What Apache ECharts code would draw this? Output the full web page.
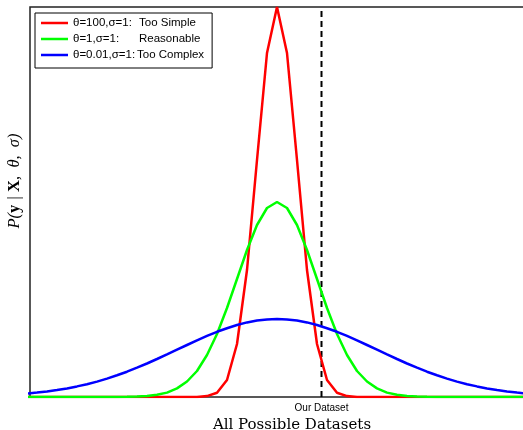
<!DOCTYPE html>
<html>
<head>
<meta charset="utf-8">
<script src="https://cdn.jsdelivr.net/npm/echarts@6/dist/echarts.min.js"></script>
<style>
  html, body { margin: 0; padding: 0; background: #fff; }
  #chart { width: 523px; height: 430px; }
</style>
</head>
<body>
<div id="chart"></div>
<script>
// sample positions (dataset index, peak at 0)
const xs = [-25, -24, -23, -22, -21, -20, -19, -18, -17, -16, -15, -14, -13, -12, -11, -10, -9,
  -8, -7, -6, -5, -4, -3, -2, -1, 0, 1, 2, 3, 4, 5, 6, 7, 8,
  9, 10, 11, 12, 13, 14, 15, 16, 17, 18, 19, 20, 21, 22, 23, 24, 25];

// theta=100 : too simple
const simpleVals = [0, 0, 0, 0, 0, 0, 0, 0, 0, 0, 0, 0, 0, 0, 0, 0, 0,
  0.1, 0.9, 4.3, 17, 53, 127, 237, 344, 390, 344, 237, 127, 53, 17, 4.3, 0.9, 0.1,
  0, 0, 0, 0, 0, 0, 0, 0, 0, 0, 0, 0, 0, 0, 0, 0, 0];

// theta=1 : reasonable
const reasonableVals = [0, 0, 0, 0, 0, 0, 0, 0, 0,
  0.1, 0.2, 0.4, 1.0, 2.2, 4.4, 8.6, 15.5, 26, 42, 63, 89, 118, 147, 172, 189,
  195,
  189, 172, 147, 118, 89, 63, 42, 26, 15.5, 8.6, 4.4, 2.2, 1.0, 0.4, 0.2, 0.1,
  0, 0, 0, 0, 0, 0, 0, 0, 0];

// theta=0.01 : too complex
const complexVals = [3.4, 4.4, 5.5, 6.9, 8.6, 10.6, 12.8, 15.4, 18.4, 21.7, 25.3, 29.3, 33.5,
  38, 42.6, 47.3, 52, 56.6, 61.1, 65.2, 68.8, 72, 74.6, 76.5, 77.6,
  78,
  77.6, 76.5, 74.6, 72, 68.8, 65.2, 61.1, 56.6, 52, 47.3, 42.6, 38,
  33.5, 29.3, 25.3, 21.7, 18.4, 15.4, 12.8, 10.6, 8.6, 6.9, 5.5, 4.4, 3.4];

const seriesNames = ["θ=100,σ=1:", "θ=1,σ=1:", "θ=0.01,σ=1:"];
const seriesNotes = ["Too Simple", "Reasonable", "Too Complex"];
const seriesColors = ["#ff0000", "#00ff00", "#0000ff"];

// x tick labels
const tickValues = [4.45];
const tickLabels = ["Our Dataset"];

const zip = (vals) => xs.map((x, i) => [x, vals[i]]);

const chart = echarts.init(document.getElementById("chart"));

const curves = [simpleVals, reasonableVals, complexVals].map((vals, i) => ({
  name: seriesNames[i],
  type: "line",
  data: zip(vals),
  showSymbol: false,
  clip: true,
  lineStyle: { color: seriesColors[i], width: 2.5 },
  itemStyle: { color: seriesColors[i] },
  z: 3 + i,
}));

const option = {
  animation: false,
  grid: {
    left: 30,
    right: -31,
    top: 7,
    bottom: 33,
    outerBoundsMode: "none",
    containLabel: false,
    show: true,
    borderColor: "#222",
    borderWidth: 1.5,
  },
  legend: {
    data: seriesNames,
    orient: "vertical",
    left: 35,
    top: 13,
    icon: "rect",
    itemWidth: 27,
    itemHeight: 2.5,
    itemGap: 0,
    padding: [2, 8, 5, 6],
    borderColor: "#000",
    borderWidth: 1,
    backgroundColor: "#fff",
    formatter: (name) => {
      const i = seriesNames.indexOf(name);
      return "{" + (i === 2 ? "c" : "a") + "|" + name + "}{b|" + seriesNotes[i] + "}";
    },
    textStyle: {
      fontFamily: "Liberation Sans",
      fontSize: 11.5,
      lineHeight: 16,
      color: "#000",
      rich: {
        a: { width: 66, fontSize: 11.5, fontFamily: "Liberation Sans", lineHeight: 16 },
        c: { width: 64, fontSize: 11.5, fontFamily: "Liberation Sans", lineHeight: 16 },
        b: { fontSize: 11.5, fontFamily: "Liberation Sans", lineHeight: 16 },
      },
    },
  },
  xAxis: {
    type: "value",
    min: -24.7,
    max: 27.7,
    axisLine: { show: false },
    axisTick: { show: false },
    splitLine: { show: false },
    axisLabel: {
      customValues: tickValues,
      formatter: (v) => tickLabels[tickValues.indexOf(v)] || "",
      fontFamily: "Liberation Sans",
      fontSize: 10,
      color: "#000",
      margin: 6,
    },
    name: "All Possible Datasets",
    nameLocation: "middle",
    nameGap: 19,
    nameTextStyle: {
      fontFamily: "DejaVu Serif",
      fontSize: 15,
      color: "#000",
    },
  },
  yAxis: {
    type: "value",
    min: 0,
    max: 390,
    axisLine: { show: false },
    axisTick: { show: false },
    axisLabel: { show: false },
    splitLine: { show: false },
    name: "{i|P(}{b|y}{i| | }{b|X}{i|,  θ,  σ)}",
    nameLocation: "middle",
    nameRotate: 90,
    nameGap: 7,
    nameTextStyle: {
      padding: [0, 0, 0, 42],
      rich: {
        i: { fontFamily: "Liberation Serif", fontStyle: "italic", fontSize: 16.5, color: "#000" },
        b: { fontFamily: "Liberation Serif", fontWeight: "bold", fontSize: 16.5, color: "#000" },
      },
    },
  },
  series: [
    ...curves,
    {
      name: "Our Dataset",
      type: "line",
      data: [[tickValues[0], 0], [tickValues[0], 390]],
      showSymbol: false,
      silent: true,
      lineStyle: { color: "#000", width: 2, type: [6, 4] },
      z: 2,
    },
  ],
};

chart.setOption(option);
</script>
</body>
</html>
